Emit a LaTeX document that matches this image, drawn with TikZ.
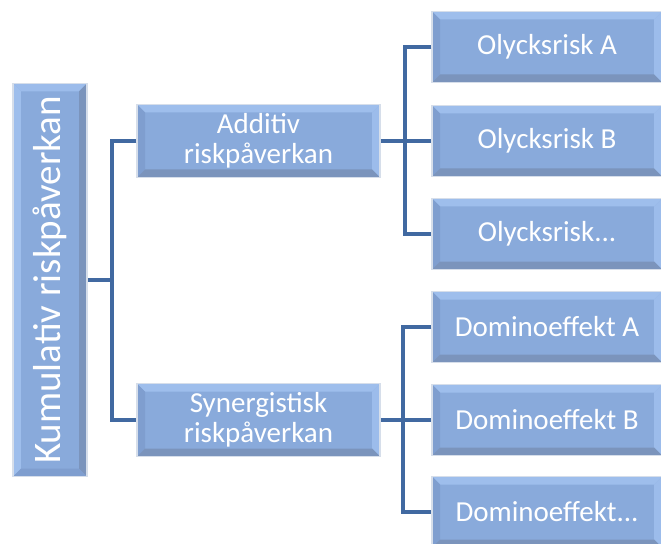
\documentclass[tikz,border=0pt]{standalone}
\usepackage{fontspec}
\setmainfont{Carlito}
\definecolor{boxfill}{HTML}{89AADB}
\definecolor{bvtop}{HTML}{9EBEEC}
\definecolor{bvleft}{HTML}{7F9ECF}
\definecolor{bvright}{HTML}{9CBCEB}
\definecolor{bvbottom}{HTML}{7B94BC}
\definecolor{boxedge}{HTML}{D6DEEA}
\definecolor{linkblue}{HTML}{4169A1}
\begin{document}
\begin{tikzpicture}[x=1bp,y=-1bp,
  bevel/.style n args={4}{path picture={
    \path (path picture bounding box.south west) coordinate (bsw)
          (path picture bounding box.north east) coordinate (bne);
    \fill[#1] (bsw |- bne) -- (bne) -- ([shift={(-8bp,-8bp)}]bne) -- ([shift={(8bp,-8bp)}]bsw |- bne) -- cycle;
    \fill[#2] (bsw |- bne) -- (bsw) -- ([shift={(8bp,8bp)}]bsw) -- ([shift={(8bp,-8bp)}]bsw |- bne) -- cycle;
    \fill[#3] (bne) -- (bne |- bsw) -- ([shift={(-8bp,8bp)}]bne |- bsw) -- ([shift={(-8bp,-8bp)}]bne) -- cycle;
    \fill[#4] (bsw) -- (bne |- bsw) -- ([shift={(-8bp,8bp)}]bne |- bsw) -- ([shift={(8bp,8bp)}]bsw) -- cycle;
  }},
  box/.style={draw=boxedge, line width=1.5bp, fill=boxfill, inner sep=0pt,
    text=white, align=center, font=\fontsize{29bp}{30bp}\selectfont,
    bevel={bvtop}{bvleft}{bvright}{bvbottom}},
  midbox/.style={box, minimum width=243bp, minimum height=73bp},
  leafbox/.style={box, minimum width=230bp, minimum height=71bp},
  link/.style={draw=linkblue, line width=4bp}
]
\useasboundingbox (0,0) rectangle (661,544);

\node[box, minimum width=74bp, minimum height=393bp,
      bevel={bvright}{bvtop}{bvbottom}{bvleft}] (root) at (50,280) {};
\node[text=white, rotate=90, font=\fontsize{39bp}{39bp}\selectfont, inner sep=0pt] (roottext) at (root.center) {Kumulativ riskpåverkan};

\node[midbox] (add) at (258.5,141) {Additiv\\riskpåverkan};
\node[midbox] (syn) at (258.5,420) {Synergistisk\\riskpåverkan};

\node[leafbox] (oA) at (547,47) {Olycksrisk A};
\node[leafbox] (oB) at (547,141) {Olycksrisk B};
\node[leafbox] (oC) at (547,234) {Olycksrisk...};
\node[leafbox] (dA) at (547,327) {Dominoeffekt A};
\node[leafbox] (dB) at (547,420) {Dominoeffekt B};
\node[leafbox] (dC) at (547,512) {Dominoeffekt...};

\coordinate (j1) at (112,280);
\coordinate (j2) at (405,141);
\coordinate (j3) at (403,420);

\draw[link] (root.east) -- (j1);
\draw[link] (add.west) -| (j1) |- (syn.west);
\draw[link] (add.east) -- (oB.west);
\draw[link] (oA.west) -| (j2) |- (oC.west);
\draw[link] (syn.east) -- (dB.west);
\draw[link] (dA.west) -| (j3) |- (dC.west);
\end{tikzpicture}
\end{document}
